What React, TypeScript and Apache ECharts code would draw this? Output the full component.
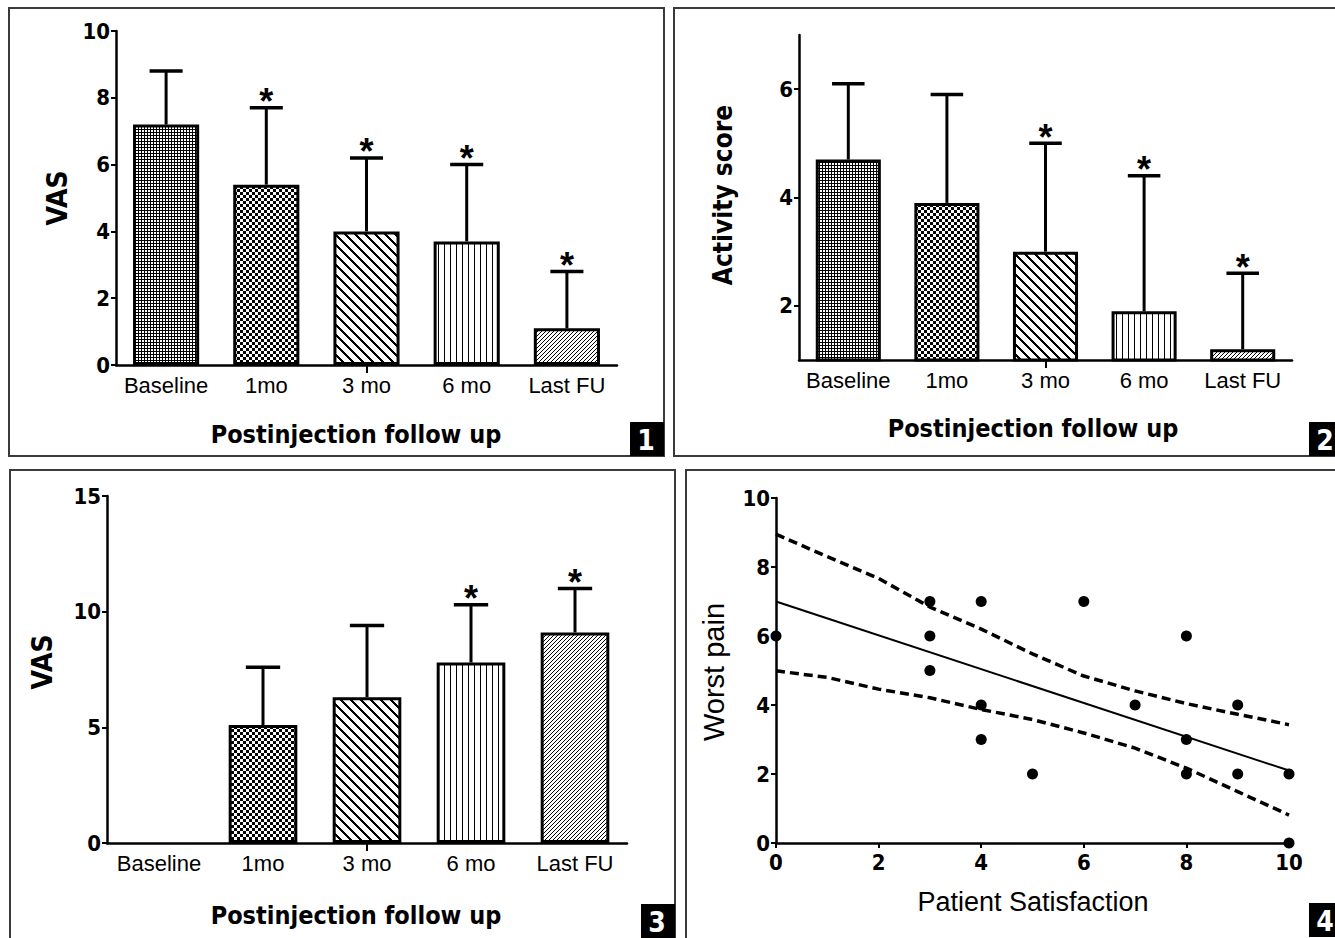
import React, { useEffect, useRef } from 'react';
import * as echarts from 'echarts';

// ---------- data ----------
const categories = ['Baseline', '1mo', '3 mo', '6 mo', 'Last FU'];

// Panel 1 – VAS over follow up
const vas1Mean = [7.2, 5.4, 4.0, 3.7, 1.1];
const vas1Err = [8.8, 7.7, 6.2, 6.0, 2.8];
const vas1Sig = [false, true, true, true, true];

// Panel 2 – Activity score
const actMean = [4.7, 3.9, 3.0, 1.9, 1.2];
const actErr = [6.1, 5.9, 5.0, 4.4, 2.6];
const actSig = [false, false, true, true, true];
const actTicks = [2, 4, 6];

// Panel 3 – VAS (improvement)
const vas3Mean = [null, 5.1, 6.3, 7.8, 9.1];
const vas3Err = [null, 7.6, 9.4, 10.3, 11.0];
const vas3Sig = [false, false, false, true, true];

// Panel 4 – Worst pain vs patient satisfaction
const satisfaction = [0, 3, 3, 3, 4, 4, 4, 5, 6, 7, 8, 8, 8, 9, 9, 10, 10];
const worstPain = [6, 7, 6, 5, 7, 4, 3, 2, 7, 4, 6, 3, 2, 4, 2, 2, 0];
const fitX = [0, 10];
const fitY = [7.0, 2.1];
const bandX = [0, 1, 2, 3, 4, 5, 6, 7, 8, 9, 10];
const bandUpper = [8.95, 8.3, 7.67, 6.84, 6.2, 5.48, 4.84, 4.41, 4.04, 3.73, 3.43];
const bandLower = [4.99, 4.8, 4.46, 4.21, 3.87, 3.58, 3.19, 2.75, 2.17, 1.49, 0.81];

// ---------- styles ----------
const NARROW = "'Liberation Sans Narrow', 'Arial Narrow', 'DejaVu Sans Condensed', sans-serif";
const ARIAL = "'Liberation Sans', Arial, sans-serif";

function makePattern(w: number, h: number, on: (x: number, y: number) => boolean) {
  const c = document.createElement('canvas');
  c.width = w;
  c.height = h;
  const ctx = c.getContext('2d')!;
  const img = ctx.createImageData(w, h);
  for (let y = 0; y < h; y++) {
    for (let x = 0; x < w; x++) {
      const i = (y * w + x) * 4;
      const v = on(x, y) ? 0 : 255;
      img.data[i] = v;
      img.data[i + 1] = v;
      img.data[i + 2] = v;
      img.data[i + 3] = 255;
    }
  }
  ctx.putImageData(img, 0, 0);
  return { image: c, repeat: 'repeat', imageWidth: w, imageHeight: h };
}

export default function App() {
  const ref = useRef<HTMLDivElement>(null);

  useEffect(() => {
    if (!ref.current) return;
    const chart = echarts.init(ref.current, null, { renderer: 'svg' });

    const patterns = [
      makePattern(3, 3, (x, y) => x === 0 || y === 0 || (x === 1 && y === 1 && false)),
      makePattern(6, 6, (x, y) => (Math.floor(x / 3) + Math.floor(y / 3)) % 2 === 0),
      makePattern(10, 10, (x, y) => (((x - y) % 10) + 10) % 10 < 3),
      makePattern(6, 1, (x) => x === 0),
      makePattern(4, 4, (x, y) => (x + y) % 4 === 0),
    ];

    const axisLine = { show: true, onZero: false, lineStyle: { color: '#000', width: 2.5 } };
    const tickStyle = { color: '#000', width: 2 };
    const yLabel = { fontFamily: NARROW, fontWeight: 'bold', fontSize: 22, color: '#000', margin: 6 };

    const catAxis = (gridIndex: number) => ({
      type: 'category',
      gridIndex,
      data: categories,
      axisLine,
      axisTick: { show: true, alignWithLabel: true, interval: (i: number) => i === 2, length: 8, lineStyle: tickStyle },
      axisLabel: { interval: 0, fontFamily: ARIAL, fontSize: 22, color: '#000', margin: 9 },
      splitLine: { show: false },
    });

    const barSeries = (gridIndex: number, means: (number | null)[]) => ({
      type: 'bar',
      xAxisIndex: gridIndex,
      yAxisIndex: gridIndex,
      barWidth: '66%',
      silent: true,
      data: means.map((v, i) =>
        v == null
          ? '-'
          : { value: v, itemStyle: { color: patterns[i], borderColor: '#000', borderWidth: 3 } }
      ),
    });

    const errSeries = (gridIndex: number, means: (number | null)[], errs: (number | null)[], sig: boolean[]) => {
      const data: number[][] = [];
      means.forEach((m, i) => {
        if (m != null) data.push([i, m, errs[i] as number, sig[i] ? 1 : 0]);
      });
      return {
        type: 'custom',
        xAxisIndex: gridIndex,
        yAxisIndex: gridIndex,
        silent: true,
        clip: false,
        z: 5,
        encode: { x: 0, y: [1, 2] },
        data,
        renderItem: (params: any, api: any) => {
          const i = api.value(0);
          const m = api.value(1);
          const e = api.value(2);
          const s = api.value(3);
          const p0 = api.coord([i, m]);
          const p1 = api.coord([i, e]);
          const band = api.size([1, 0])[0];
          const half = (band * 0.66) / 4;
          const children: any[] = [
            { type: 'line', shape: { x1: p0[0], y1: p0[1], x2: p0[0], y2: p1[1] }, style: { stroke: '#000', lineWidth: 3 } },
            { type: 'line', shape: { x1: p0[0] - half, y1: p1[1], x2: p0[0] + half, y2: p1[1] }, style: { stroke: '#000', lineWidth: 3.5 } },
          ];
          if (s) {
            children.push({
              type: 'text',
              x: p0[0],
              y: p1[1] - 6,
              style: { text: '*', fontSize: 36, fontWeight: 'bold', fontFamily: ARIAL, fill: '#000', align: 'center', verticalAlign: 'middle' },
            });
          }
          return { type: 'group', children };
        },
      };
    };

    const title = (text: string, x: number, y: number, bold: boolean, size: number, rotate = false) => ({
      type: 'text',
      x,
      y,
      rotation: rotate ? Math.PI / 2 : 0,
      style: {
        text,
        fontFamily: bold ? NARROW : ARIAL,
        fontWeight: bold ? 'bold' : 'normal',
        fontSize: size,
        fill: '#000',
        align: 'center',
        verticalAlign: 'middle',
      },
    });

    const border = (x: number, y: number, w: number, h: number) => ({
      type: 'rect',
      shape: { x, y, width: w, height: h },
      style: { fill: 'none', stroke: '#3a3a3a', lineWidth: 2 },
    });

    const badge = (label: string, x: number, y: number) => ({
      type: 'group',
      children: [
        { type: 'rect', shape: { x, y, width: 34, height: 34 }, style: { fill: '#000' } },
        {
          type: 'text',
          x: x + 16,
          y: y + 18,
          style: { text: label, fontFamily: NARROW, fontWeight: 'bold', fontSize: 28, fill: '#fff', align: 'center', verticalAlign: 'middle' },
        },
      ],
    });

    const option: any = {
      animation: false,
      backgroundColor: '#fff',
      grid: [
        { left: 116, top: 31, width: 501, height: 334 },
        { left: 799, top: 35, width: 493, height: 325 },
        { left: 107, top: 496, width: 520, height: 347 },
        { left: 776, top: 498, width: 513, height: 345 },
      ],
      xAxis: [
        catAxis(0),
        catAxis(1),
        catAxis(2),
        {
          type: 'value',
          gridIndex: 3,
          min: 0,
          max: 10,
          interval: 2,
          axisLine,
          axisTick: { show: true, length: 5, lineStyle: tickStyle },
          axisLabel: { ...yLabel, margin: 8 },
          splitLine: { show: false },
        },
      ],
      yAxis: [
        {
          type: 'value',
          gridIndex: 0,
          min: 0,
          max: 10,
          interval: 2,
          axisLine,
          axisTick: { show: true, length: 5, lineStyle: tickStyle },
          axisLabel: yLabel,
          splitLine: { show: false },
        },
        {
          type: 'value',
          gridIndex: 1,
          min: 1,
          max: 7,
          axisLine,
          axisTick: { show: true, length: 5, lineStyle: tickStyle, customValues: actTicks },
          axisLabel: { ...yLabel, customValues: actTicks },
          splitLine: { show: false },
        },
        {
          type: 'value',
          gridIndex: 2,
          min: 0,
          max: 15,
          interval: 5,
          axisLine,
          axisTick: { show: true, length: 5, lineStyle: tickStyle },
          axisLabel: yLabel,
          splitLine: { show: false },
        },
        {
          type: 'value',
          gridIndex: 3,
          min: 0,
          max: 10,
          interval: 2,
          axisLine,
          axisTick: { show: true, length: 5, lineStyle: tickStyle },
          axisLabel: yLabel,
          splitLine: { show: false },
        },
      ],
      series: [
        barSeries(0, vas1Mean),
        errSeries(0, vas1Mean, vas1Err, vas1Sig),
        barSeries(1, actMean),
        errSeries(1, actMean, actErr, actSig),
        barSeries(2, vas3Mean),
        errSeries(2, vas3Mean, vas3Err, vas3Sig),
        {
          type: 'line',
          xAxisIndex: 3,
          yAxisIndex: 3,
          showSymbol: false,
          silent: true,
          lineStyle: { color: '#000', width: 3.5, type: [9, 5] },
          data: bandX.map((x, i) => [x, bandUpper[i]]),
        },
        {
          type: 'line',
          xAxisIndex: 3,
          yAxisIndex: 3,
          showSymbol: false,
          silent: true,
          lineStyle: { color: '#000', width: 3.5, type: [9, 5] },
          data: bandX.map((x, i) => [x, bandLower[i]]),
        },
        {
          type: 'line',
          xAxisIndex: 3,
          yAxisIndex: 3,
          showSymbol: false,
          silent: true,
          lineStyle: { color: '#000', width: 2 },
          data: fitX.map((x, i) => [x, fitY[i]]),
        },
        {
          type: 'scatter',
          xAxisIndex: 3,
          yAxisIndex: 3,
          symbolSize: 11,
          clip: false,
          silent: true,
          z: 6,
          itemStyle: { color: '#000', opacity: 1 },
          data: satisfaction.map((x, i) => [x, worstPain[i]]),
        },
      ],
      graphic: {
        elements: [
          border(9, 8, 655, 448),
          border(674, 8, 700, 448),
          border(10, 470, 665, 500),
          border(686, 470, 700, 500),
          title('VAS', 57, 198, true, 28, true),
          title('Postinjection follow up', 356, 434, true, 25),
          title('Activity score', 723, 195, true, 26, true),
          title('Postinjection follow up', 1033, 428, true, 25),
          title('VAS', 42, 662, true, 28, true),
          title('Postinjection follow up', 356, 915, true, 25),
          title('Worst pain', 714, 672, false, 29, true),
          title('Patient Satisfaction', 1033, 902, false, 27),
          badge('1', 630, 422),
          badge('2', 1309, 422),
          badge('3', 641, 904),
          badge('4', 1309, 903),
        ],
      },
    };

    chart.setOption(option);
    return () => chart.dispose();
  }, []);

  return <div ref={ref} style={{ position: 'fixed', left: 0, top: 0, width: 1335, height: 938 }} />;
}
